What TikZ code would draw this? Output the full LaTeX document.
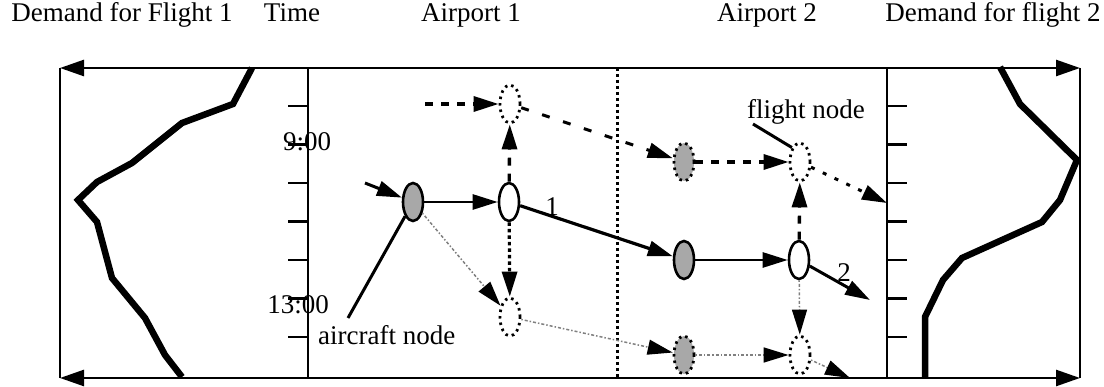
\documentclass[tikz,border=0pt]{standalone}
\usepackage{fontspec}
\setmainfont{Liberation Serif}
\usetikzlibrary{arrows.meta,shapes.geometric}
\definecolor{nodegray}{RGB}{168,168,168}
\begin{document}
\begin{tikzpicture}[x=1pt,y=-1pt,
  font=\fontsize{27}{30}\selectfont,
  tip/.style={-{Triangle[length=25pt,width=15pt,color=black]}},
  frame/.style={line width=2.6pt},
  demand/.style={line width=6.5pt, line join=miter},
  nd/.style={ellipse, minimum width=20pt, minimum height=38pt, inner sep=0pt, line width=2.6pt},
  ndsolid/.style={nd, draw},
  nddot/.style={nd, draw, line width=2.8pt, dash pattern=on 2.5pt off 4pt},
  solidE/.style={line width=2.6pt, tip},
  dashE/.style={line width=3.4pt, dash pattern=on 8pt off 8pt, tip},
  dashEb/.style={line width=3pt, dash pattern=on 8pt off 14pt, tip},
  dotE/.style={line width=3pt, dash pattern=on 4pt off 9pt, tip},
  thickdot/.style={line width=3.2pt, dash pattern=on 3.5pt off 3pt, tip},
  thindot/.style={line width=1.5pt, gray, dash pattern=on 1.5pt off 2pt on 3pt off 2pt, tip},
  lbl/.style={anchor=base, inner sep=0pt},
  leader/.style={line width=3pt}
]
\useasboundingbox (0,0) rectangle (1104,387);

% frame corners
\coordinate (tl) at (60,68);
\coordinate (tr) at (1080,68);
\coordinate (bl) at (60,378);
\coordinate (br) at (1080,378);
\coordinate (tt) at (308,68);
\coordinate (tb) at (308,378);
\coordinate (rt) at (887,68);
\coordinate (rb) at (887,378);
\coordinate (dt) at (617,68);
\coordinate (db) at (617,378);

\draw[frame, {Triangle[length=24pt,width=16pt]}-{Triangle[length=24pt,width=16pt]}] (tl) -- (tr);
\draw[frame, {Triangle[length=24pt,width=16pt]}-{Triangle[length=24pt,width=16pt]}] (bl) -- (br);
\draw[frame] (tl) -- (bl);
\draw[frame] (tr) -- (br);
\draw[frame] (tt) -- (tb);
\draw[frame] (rt) -- (rb);
\draw[line width=3pt, dash pattern=on 3pt off 3pt] (dt) -- (db);

% ticks
\foreach \y in {106,144.5,183,221.5,260,298.5,337}{
  \draw[frame] (288,\y) -- (308,\y);
  \draw[frame] (887,\y) -- (907,\y);
}

% top labels
\node[lbl] (h1) at (122,22) {Demand for Flight 1};
\node[lbl] (h2) at (292,22) {Time};
\node[lbl] (h3) at (471,22) {Airport 1};
\node[lbl] (h4) at (767,22) {Airport 2};
\node[lbl] (h5) at (993,22) {Demand for flight 2};

% time labels
\node[inner sep=0pt] (t900) at (307,142) {9:00};
\node[inner sep=0pt] (t1300) at (298,305) {13:00};

% demand curves
\draw[demand] (252,68) -- (233,104) -- (182,123) -- (132,163) -- (97,182) -- (78,200)
  -- (97,222) -- (112,278) -- (145,318) -- (165,355) -- (182,377);
\draw[demand] (1000,67) -- (1020,104) -- (1077,160) -- (1060,200) -- (1042,222)
  -- (962,258) -- (943,280) -- (925,317) -- (925,377);

% nodes
\node[ndsolid, fill=nodegray] (ac) at (413,202) {};
\node[ndsolid, fill=white] (w1) at (509,202) {};
\node[nddot] (t1) at (510,104) {};
\node[nddot] (b1) at (510,317) {};
\node[nddot, fill=nodegray] (gd2) at (684,162) {};
\node[ndsolid, fill=nodegray] (g2) at (684,260) {};
\node[ndsolid, fill=white] (w2) at (799,260) {};
\node[nddot] (f2) at (800,162) {};
\node[nddot, fill=nodegray] (gb2) at (684,355) {};
\node[nddot] (bb2) at (800,355) {};

\coordinate (in1) at (365,183);
\coordinate (s1) at (425,104);
\coordinate (e2) at (870,300);
\coordinate (e3) at (887,203);
\coordinate (e4) at (850,378);

% solid flight arcs
\draw[solidE, line width=3pt] (in1) -- (ac);
\draw[solidE] (ac) -- (w1);
\draw[solidE, line width=3.2pt] (w1) -- (g2);
\draw[solidE] (g2) -- (w2);
\draw[solidE, line width=3pt] (w2) -- (e2);
\node[inner sep=0pt] (l1) at (552,207) {1};
\node[inner sep=0pt] (l2) at (844,273) {2};

% dashed arcs
\draw[dashE] (s1) -- (t1);
\draw[dashE] (w1) -- (t1);
\draw[dashEb] (t1) -- (gd2);
\draw[dashE] (gd2) -- (f2);
\draw[dashE] (w2) -- (f2);
\draw[dotE] (f2) -- (e3);

% dotted arcs
\draw[thickdot] (w1) -- (b1);
\draw[thindot] (ac) -- (b1);
\draw[thindot] (b1) -- (gb2);
\draw[thindot] (gb2) -- (bb2);
\draw[thindot] (w2) -- (bb2);
\draw[thindot] (bb2) -- (e4);

% annotations
\node[anchor=base west, inner sep=0pt] (acl) at (318,345) {aircraft node};
\coordinate (acp) at (348,318);
\draw[leader] (acp) -- (ac.south west);
\node[anchor=base west, inner sep=0pt] (fnl) at (747,119) {flight node};
\coordinate (fnp) at (753,124);
\draw[leader] (fnp) -- (f2.north west);
\end{tikzpicture}
\end{document}
